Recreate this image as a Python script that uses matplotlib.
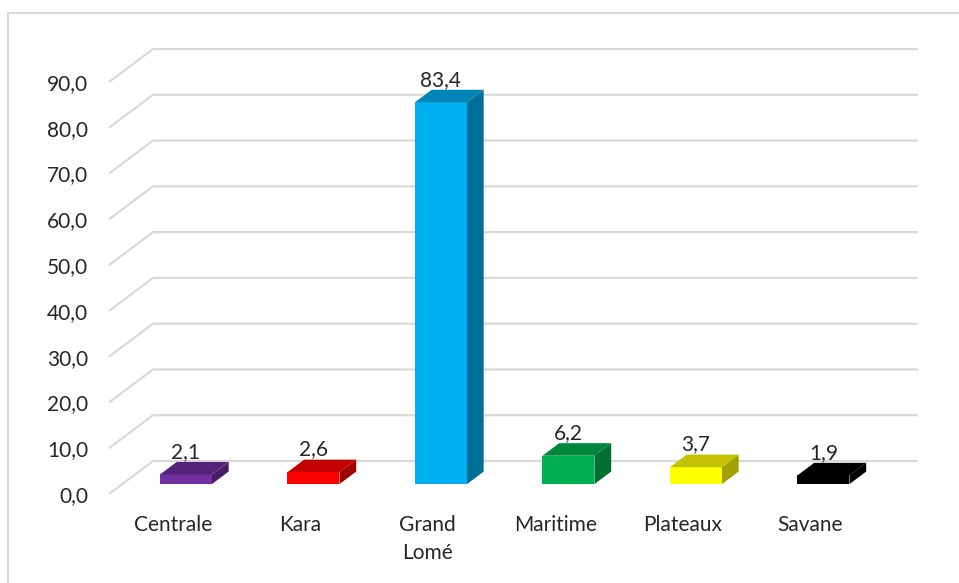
import matplotlib
matplotlib.use("Agg")
import matplotlib.pyplot as plt
from matplotlib.patches import Polygon, Rectangle
from matplotlib.colors import to_rgb

categories = ["Centrale", "Kara", "Grand\nLomé", "Maritime", "Plateaux", "Savane"]
values = [2.1, 2.6, 83.4, 6.2, 3.7, 1.9]
labels = ["2,1", "2,6", "83,4", "6,2", "3,7", "1,9"]
colors = ["#7030A0", "#FF0000", "#00B0F0", "#00B050", "#FFFF00", "#000000"]
yticks = [0, 10, 20, 30, 40, 50, 60, 70, 80, 90]
ytick_labels = ["0,0", "10,0", "20,0", "30,0", "40,0", "50,0", "60,0", "70,0", "80,0", "90,0"]

plt.rcParams['font.family'] = ['Lato', 'DejaVu Sans']
TXT = "#262626"
GRID = "#D9D9D9"

W, H = 959, 583
fig = plt.figure(figsize=(W / 100, H / 100), dpi=100)
fig.patch.set_facecolor("white")

# border (top & left visible)
fig.add_artist(plt.Line2D([8 / W, 8 / W], [0, 1 - 13 / H], color=GRID, lw=1.5))
fig.add_artist(plt.Line2D([8 / W, 1], [1 - 13 / H, 1 - 13 / H], color=GRID, lw=1.5))

ax_left, ax_bottom, ax_w, ax_h = 109, 89, 765, 412
ax = fig.add_axes([ax_left / W, ax_bottom / H, ax_w / W, ax_h / H])
n = len(categories)
ax.set_xlim(-0.5, n - 0.5)
ax.set_ylim(0, 90)
for s in ax.spines.values():
    s.set_visible(False)
ax.patch.set_visible(False)

# depth of the floor (oblique projection) in data units
px_x = n / ax_w
px_y = 90 / ax_h
DX = 44 * px_x
DY = 33 * px_y

# gridlines: front diagonal + back wall
for v in yticks:
    xs = [-0.5, -0.5 + DX, n - 0.5 + DX]
    ys = [v, v + DY, v + DY]
    ax.plot(xs, ys, color=GRID, lw=1.6, zorder=1, clip_on=False, solid_capstyle='butt')

ax.set_yticks(yticks)
ax.set_yticklabels(ytick_labels)
ax.set_xticks(range(n))
ax.set_xticklabels(categories, linespacing=1.5)
ax.tick_params(axis='y', length=0, pad=15, labelsize=15, labelcolor=TXT)
ax.tick_params(axis='x', length=0, pad=15, labelsize=15, labelcolor=TXT)


def shade(c, f):
    r, g, b = to_rgb(c)
    return (r * f, g * f, b * f)


f0, f1 = 0.30, 0.68
bw = 52 * px_x
for i, (v, c, lab) in enumerate(zip(values, colors, labels)):
    x0 = i + f0 * DX - bw / 2
    x1 = x0 + bw
    y0 = f0 * DY
    ddx = (f1 - f0) * DX
    ddy = (f1 - f0) * DY
    front = Rectangle((x0, y0), bw, v, facecolor=c, edgecolor='none', zorder=3, clip_on=False)
    top = Polygon([(x0, y0 + v), (x1, y0 + v), (x1 + ddx, y0 + v + ddy), (x0 + ddx, y0 + v + ddy)],
                  closed=True, facecolor=shade(c, 0.76), edgecolor='none', zorder=3, clip_on=False)
    side = Polygon([(x1, y0), (x1, y0 + v), (x1 + ddx, y0 + v + ddy), (x1 + ddx, y0 + ddy)],
                   closed=True, facecolor=shade(c, 0.63), edgecolor='none', zorder=3, clip_on=False)
    ax.add_patch(side)
    ax.add_patch(front)
    ax.add_patch(top)
    ax.text(i + f0 * DX, y0 + v + ddy + 0.9, lab, ha='center', va='baseline',
            fontsize=15, color=TXT, zorder=4, clip_on=False)

fig.savefig("out.png", dpi=100, facecolor="white")
